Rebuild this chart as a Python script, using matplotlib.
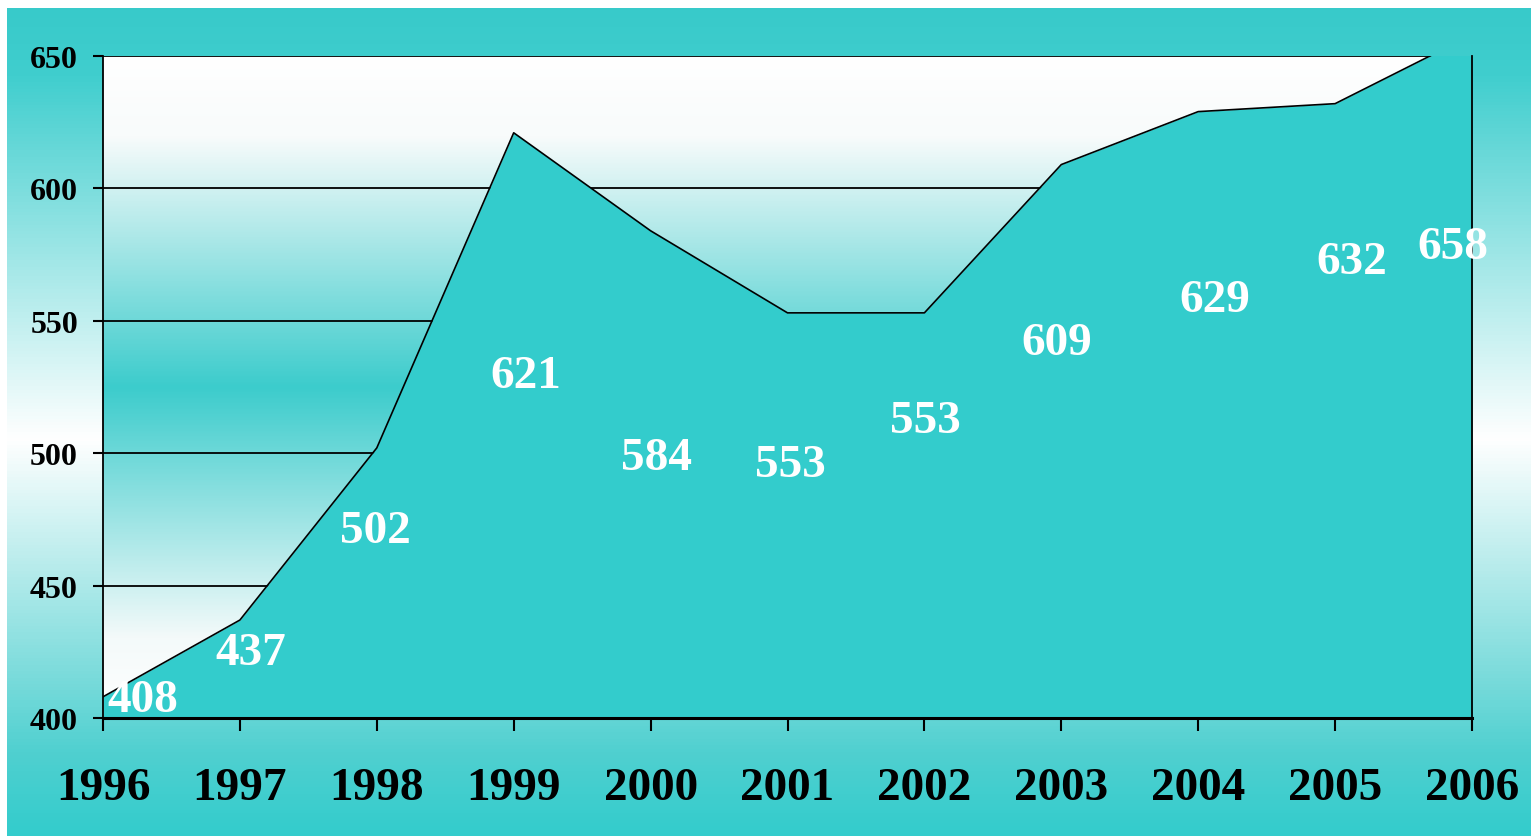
import numpy as np
import matplotlib
matplotlib.use("Agg")
import matplotlib.pyplot as plt
from matplotlib.colors import LinearSegmentedColormap

# data
years = [1996, 1997, 1998, 1999, 2000, 2001, 2002, 2003, 2004, 2005, 2006]
values = [408, 437, 502, 621, 584, 553, 553, 609, 629, 632, 658]
y_ticks = [400, 450, 500, 550, 600, 650]

# where the white value labels sit (data units)
label_x = [1996.29, 1997.08, 1997.99, 1999.09, 2000.04, 2001.02, 2002.01, 2002.97, 2004.12, 2005.12, 2005.86]
label_y = [406.8, 424.6, 470.6, 529.2, 498.2, 495.6, 512.2, 541.6, 557.9, 572.2, 577.9]

teal = "#33cccc"
serif = ["Liberation Serif", "DejaVu Serif"]

W, H = 1531, 837
fig = plt.figure(figsize=(W / 100, H / 100), dpi=100)
fig.patch.set_facecolor("white")

# outer slide background: teal -> white -> teal
bg = fig.add_axes([7 / W, 0, 1 - 7 / W, 1 - 9 / H])
bg_cmap = LinearSegmentedColormap.from_list(
    "bg", [(0, "#38caca"), (0.08, "#40cece"), (0.52, "#ffffff"), (0.9, "#50d0d0"), (1, "#33cccc")])
grad = np.linspace(0, 1, 256).reshape(-1, 1)
bg.imshow(grad, cmap=bg_cmap, aspect="auto", extent=[0, 1, 0, 1], origin="upper")
bg.axis("off")

# plot area
ax = fig.add_axes([103 / W, (H - 719) / H, (1472 - 103) / W, 662 / H])
ax.set_xlim(years[0], years[-1])
ax.set_ylim(400, 650)

pa_cmap = LinearSegmentedColormap.from_list(
    "pa", [(0, "#ffffff"), (0.12, "#f8fbfb"), (0.5, "#3ccccc"), (0.88, "#f4fafa"), (1, "#ffffff")])
ax.imshow(grad, cmap=pa_cmap, aspect="auto", extent=[years[0], years[-1], 400, 650],
          origin="upper", zorder=0)

ax.set_axisbelow(True)
ax.yaxis.grid(True, color="black", linewidth=1.3)
ax.fill_between(years, values, 400, color=teal, zorder=1, linewidth=0)
ax.plot(years, values, color="black", linewidth=1.2, zorder=2)

for lx, ly, v in zip(label_x, label_y, values):
    ax.text(lx, ly, str(v), color="white", fontsize=34, fontweight="bold",
            family=serif, ha="center", va="center", zorder=3, clip_on=False)

ax.spines["top"].set_visible(False)
ax.spines["left"].set_linewidth(1.3)
ax.spines["right"].set_linewidth(1.3)
ax.spines["bottom"].set_linewidth(2.2)

ax.set_xticks(years)
ax.set_xticklabels([str(y) for y in years])
ax.set_yticks(y_ticks)
ax.set_yticklabels([str(t) for t in y_ticks])
ax.tick_params(axis="x", direction="out", length=9.5, width=1.5, pad=26, labelsize=34)
ax.tick_params(axis="y", direction="out", length=7, width=1.5, pad=11, labelsize=23)
for lab in ax.get_xticklabels() + ax.get_yticklabels():
    lab.set_fontfamily(serif)
    lab.set_fontweight("bold")

fig.savefig("out.png", dpi=100)
